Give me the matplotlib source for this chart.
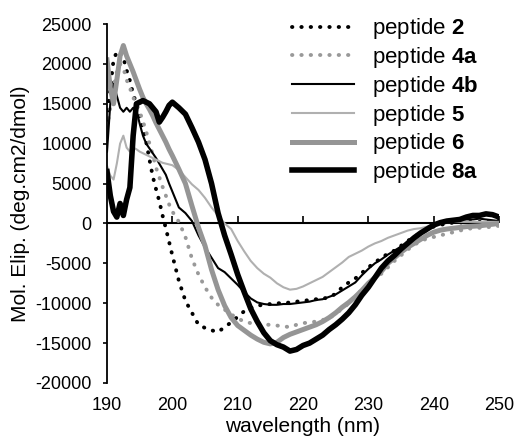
import numpy as np
import matplotlib
matplotlib.use("Agg")
import matplotlib.pyplot as plt

plt.rcParams['font.family'] = ['Liberation Sans', 'DejaVu Sans']
plt.rcParams['mathtext.fontset'] = 'custom'
plt.rcParams['mathtext.rm'] = 'Liberation Sans'
plt.rcParams['mathtext.bf'] = 'Liberation Sans:bold'
plt.rcParams['axes.unicode_minus'] = False

# wavelength grid (nm): 0.5 nm steps up to 200, then 1 nm
wl = np.concatenate([np.arange(190, 200, 0.5), np.arange(200, 251, 1)])

p2 = [13000, 17000, 20500, 21500, 21600, 20800, 19200, 17900, 16200, 15000,
      13300, 11700, 10200, 8000, 5900, 4300, 2800, 1000, -600, -2300,
      -4000, -7200, -9700, -11200, -12700, -13100, -13400, -13600, -13000, -12400,
      -11700, -11000, -10600, -10300, -10200, -10100, -10000, -10000, -9900, -9800,
      -9700, -9600, -9500, -9400, -9300, -8800, -8000, -7400, -6900, -6200,
      -5500, -4900, -4300, -3800, -3400, -2800, -2200, -1700, -1200, -800,
      -400, -200, 0, 100, 100, 200, 200, 200, 300, 300, 300]

p4a = [12000, 14500, 17000, 19000, 20000, 19500, 18000, 17000, 15800, 15000,
       14000, 12800, 11500, 10000, 8600, 7000, 5800, 4600, 3500, 2400,
       1500, 200, -1700, -4400, -6400, -8000, -9300, -10200, -10800, -11400,
       -11900, -12300, -12500, -12600, -12700, -12700, -12800, -12900, -13000, -12700,
       -12500, -12400, -12300, -12100, -11900, -11300, -10700, -10000, -9200, -8300,
       -7600, -6900, -6300, -5500, -4700, -4000, -3300, -2700, -2200, -1900,
       -1700, -1500, -1300, -1100, -900, -700, -600, -550, -500, -400, -300]

p4b = [9000, 15000, 17500, 16000, 14500, 14000, 14500, 14000, 14500, 14200,
       12500, 11000, 10000, 9400, 8800, 8200, 7500, 6800, 6100, 5000,
       4000, 2000, 1300, 300, -1500, -3000, -4300, -5600, -6100, -6900,
       -7700, -8600, -9400, -9900, -10100, -10200, -10200, -10100, -10100, -10000,
       -9900, -9800, -9600, -9500, -9200, -8900, -8400, -7900, -7400, -6500,
       -5700, -5000, -4500, -3900, -3400, -2900, -2400, -2000, -1400, -800,
       -200, 200, 400, 400, 500, 500, 500, 600, 500, 400, 300]

p5 = [7200, 6000, 5500, 7500, 10000, 11000, 9500, 9000, 9500, 9300,
      9000, 8800, 8600, 8400, 8200, 8000, 7800, 7600, 7500, 7400,
      7300, 6700, 5800, 4900, 4200, 3200, 2000, 1000, 0, -700,
      -2200, -3500, -4700, -5600, -6300, -6800, -7500, -8000, -8300, -8200,
      -7900, -7500, -7100, -6700, -6100, -5500, -4900, -4200, -3800, -3400,
      -2900, -2500, -2200, -1800, -1500, -1200, -900, -700, -600, -400,
      -100, 100, 150, 200, 200, 200, 200, 200, 200, 200, 200]

p6 = [20500, 17000, 15000, 18000, 21000, 22300, 21000, 20000, 19000, 17900,
      16800, 15800, 15000, 14300, 13500, 12600, 11800, 11000, 10200, 9300,
      8500, 6800, 5000, 2200, -500, -2800, -5800, -8300, -10300, -11800,
      -12800, -13400, -14000, -14500, -14900, -15100, -14900, -14300, -13900, -13600,
      -13300, -13000, -12700, -12300, -11800, -11200, -10500, -9900, -9200, -8400,
      -7500, -6800, -6000, -5000, -4300, -3600, -3000, -2500, -2000, -1500,
      -1100, -850, -700, -600, -500, -400, -350, -300, -200, -100, 0]

p8a = [6500, 3500, 1500, 800, 2500, 1000, 3000, 4500, 11000, 15000,
       15200, 15400, 15200, 15000, 14500, 14000, 12700, 13300, 14000, 14800,
       15200, 14500, 13700, 12000, 10200, 8000, 5000, 1300, -1500, -3900,
       -6400, -8600, -10700, -12300, -13700, -14700, -15200, -15500, -16000, -15800,
       -15300, -15000, -14500, -14000, -13300, -12700, -12000, -11200, -10200, -9000,
       -8000, -6800, -5600, -4700, -4000, -3200, -2500, -1800, -1200, -700,
       -200, 100, 300, 400, 500, 800, 1000, 1000, 1200, 1100, 800]

labels = ['peptide $\\mathbf{2}$', 'peptide $\\mathbf{4a}$', 'peptide $\\mathbf{4b}$',
          'peptide $\\mathbf{5}$', 'peptide $\\mathbf{6}$', 'peptide $\\mathbf{8a}$']

xticks = [190, 200, 210, 220, 230, 240, 250]
yticks = [-20000, -15000, -10000, -5000, 0, 5000, 10000, 15000, 20000, 25000]

fig = plt.figure(figsize=(5.16, 4.42), dpi=100)
ax = fig.add_axes([0.2074, 0.1335, 0.7597, 0.8122])

dot = (0, (0.1, 2.3))
ax.plot(wl, p2, color='black', lw=2.8, ls=dot, dash_capstyle='round', label=labels[0])
ax.plot(wl, p4a, color='#999999', lw=2.8, ls=dot, dash_capstyle='round', label=labels[1])
ax.plot(wl, p4b, color='black', lw=1.5, label=labels[2])
ax.plot(wl, p5, color='#b0b0b0', lw=1.5, label=labels[3])
ax.plot(wl, p6, color='#959595', lw=3.6, label=labels[4])
ax.plot(wl, p8a, color='black', lw=4.0, label=labels[5])

# x axis line crossing at zero with small upward ticks
ax.axhline(0, color='black', lw=1.5, zorder=1)
ax.plot(xticks[1:], [0] * (len(xticks) - 1), ls='none', marker=2, ms=5, mew=1.2,
        color='black', zorder=1)

ax.set_xlim(190, 250)
ax.set_ylim(-20000, 25000)
ax.set_xticks(xticks)
ax.set_yticks(yticks)
ax.tick_params(axis='x', length=0, pad=10, labelsize=13)
ax.tick_params(axis='y', direction='out', length=3, width=1.2, pad=8, labelsize=13)
for s in ['top', 'right', 'bottom']:
    ax.spines[s].set_visible(False)
ax.spines['left'].set_linewidth(1.3)

ax.set_xlabel('wavelength (nm)', fontsize=15, labelpad=2)
ax.set_ylabel('Mol. Elip. (deg.cm2/dmol)', fontsize=15, labelpad=4)

ax.legend(loc='upper left', bbox_to_anchor=(0.566, 0.963), bbox_transform=fig.transFigure,
          frameon=False, fontsize=16, handlelength=2.8, handletextpad=0.8,
          labelspacing=0.17, borderpad=0, borderaxespad=0)

fig.savefig('out.png', dpi=100)
